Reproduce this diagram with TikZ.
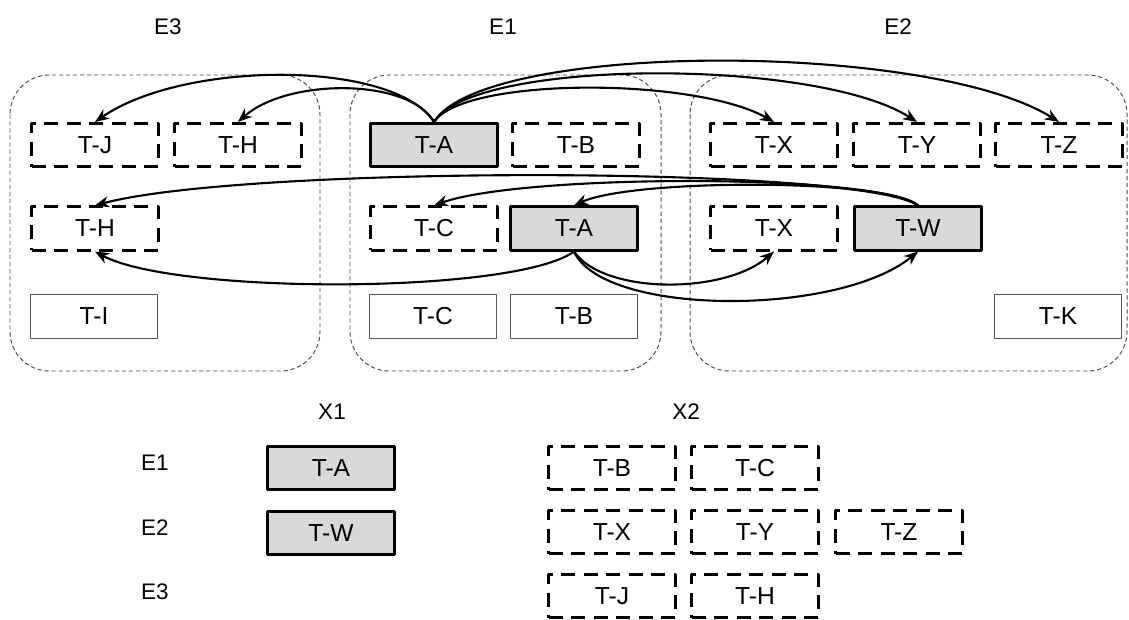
\documentclass[tikz,border=0pt]{standalone}
\usepackage{fontspec}
\setmainfont{Liberation Sans}
\usetikzlibrary{arrows.meta}
\definecolor{selgray}{HTML}{D9D9D9}
\begin{document}
\begin{tikzpicture}[x=0.025cm,y=-0.025cm,>={Stealth[length=10pt,width=8pt]}, line join=round, line cap=round,
	task/.style={minimum width=3.17cm,minimum height=1.08cm,inner sep=0pt,font=\fontsize{17.5}{20}\selectfont},
	moved/.style={task,draw,line width=2.1pt,line cap=butt,dash pattern=on 10pt off 6pt},
	kept/.style={task,draw,fill=selgray,line width=2.1pt},
	idle/.style={task,draw=black!65,line width=0.8pt},
	env/.style={draw=black!70,line width=0.7pt,line cap=butt,dash pattern=on 3pt off 2pt,rounded corners=28pt},
	link/.style={->,line width=1.5pt},
	head/.style={font=\fontsize{16}{18}\selectfont},
	sub/.style={font=\fontsize{16}{18}\selectfont},
	lab/.style={font=\fontsize{16}{18}\selectfont}]
	\useasboundingbox (0,0) rectangle (1129,619);
	\def\rA{145} \def\rB{228.5} \def\rC{316.5} % rows
	% environments
	\draw[env] (10,75) rectangle (320,371);
	\draw[env] (350,75) rectangle (661,371);
	\draw[env] (690,75) rectangle (1127,371);
	\node[head] (h3) at (168,27) {E3};
	\node[head] (h1) at (503,27) {E1};
	\node[head] (h2) at (898,27) {E2};
	% first row
	\node[moved] (e3j) at (95,\rA) {T-J};
	\node[moved] (e3h) at (238,\rA) {T-H};
	\node[kept] (e1a) at (434,\rA) {T-A};
	\node[moved] (e1b) at (576,\rA) {T-B};
	\node[moved] (e2x) at (774,\rA) {T-X};
	\node[moved] (e2y) at (917,\rA) {T-Y};
	\node[moved] (e2z) at (1059,\rA) {T-Z};
	% second row
	\node[moved] (e3h2) at (95,\rB) {T-H};
	\node[moved] (e1c) at (434,\rB) {T-C};
	\node[kept] (e1a2) at (574,\rB) {T-A};
	\node[moved] (e2x2) at (774,\rB) {T-X};
	\node[kept] (e2w) at (918,\rB) {T-W};
	% third row
	\node[idle] (e3i) at (94,\rC) {T-I};
	\node[idle] (e1c3) at (433,\rC) {T-C};
	\node[idle] (e1b3) at (574,\rC) {T-B};
	\node[idle] (e2k) at (1058,\rC) {T-K};
	% arrows
	\draw[link] (e1a.north) .. controls +(-40,-62) and +(90,-62) .. (e3j.north);
	\draw[link] (e1a.north) .. controls +(-25,-44) and +(50,-44) .. (e3h.north);
	\draw[link] (e1a.north) .. controls +(30,-45) and +(-80,-45) .. (e2x.north);
	\draw[link] (e1a.north) .. controls +(40,-64) and +(-100,-64) .. (e2y.north);
	\draw[link] (e1a.north) .. controls +(50,-81) and +(-130,-81) .. (e2z.north);
	\draw[link] (e2w.north) .. controls +(-30,-27) and +(60,-27) .. (e1a2.north);
	\draw[link] (e2w.north) .. controls +(-40,-32) and +(90,-32) .. (e1c.north);
	\draw[link] (e2w.north) .. controls +(-60,-40) and +(150,-40) .. (e3h2.north);
	\draw[link] (e1a2.south) .. controls +(-60,43) and +(80,43) .. (e3h2.south);
	\draw[link] (e1a2.south) .. controls +(30,43) and +(-50,43) .. (e2x2.south);
	\draw[link] (e1a2.south) .. controls +(30,65) and +(-80,65) .. (e2w.south);
	% split
	\node[sub] (x1) at (332,412) {X1};
	\node[sub] (x2) at (686,412) {X2};
	\node[lab] (l1) at (155,463) {E1};
	\node[lab] (l2) at (155,528) {E2};
	\node[lab] (l3) at (155,592) {E3};
	\node[kept] (s1a) at (331,468) {T-A};
	\node[kept] (s2w) at (331,533) {T-W};
	\node[moved] (s1b) at (612,468) {T-B};
	\node[moved] (s1c) at (755,468) {T-C};
	\node[moved] (s2x) at (612,532) {T-X};
	\node[moved] (s2y) at (755,532) {T-Y};
	\node[moved] (s2z) at (899,532) {T-Z};
	\node[moved] (s3j) at (612,596) {T-J};
	\node[moved] (s3h) at (755,596) {T-H};
\end{tikzpicture}
\end{document}
